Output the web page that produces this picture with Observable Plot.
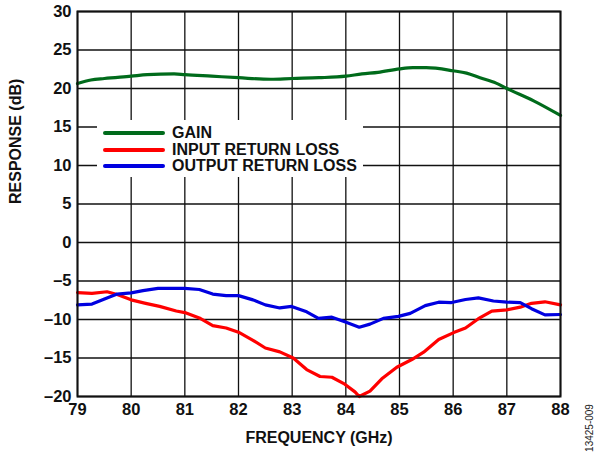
<!DOCTYPE html>
<html><head><meta charset="utf-8">
<script src="https://cdn.jsdelivr.net/npm/d3@7"></script>
<script src="https://cdn.jsdelivr.net/npm/@observablehq/plot@0.6"></script>
<style>
body{margin:0;background:#fff;}
#wrap{position:relative;width:598px;height:452px;font-family:"Liberation Sans",Arial,sans-serif;font-weight:bold;}
#legend{position:absolute;left:97px;top:120px;width:266px;height:57px;background:#fff;}
.row{position:absolute;left:6px;height:16px;display:flex;align-items:center;font-size:16px;color:#111;white-space:nowrap;}
.sw{width:62px;height:4px;border-radius:2px;margin-right:7px;}
#code{position:absolute;left:589px;top:428px;transform:translate(-50%,-50%) rotate(-90deg);font-family:"Liberation Sans Narrow","Liberation Sans",Arial,sans-serif;font-size:10px;font-weight:normal;color:#222;white-space:nowrap;}
</style></head><body><div id="wrap"></div>
<script>
const xTicks = [79,80,81,82,83,84,85,86,87,88];
const yTicks = [-20,-15,-10,-5,0,5,10,15,20,25,30];
const xLabel = "FREQUENCY (GHz)";
const yLabel = "RESPONSE (dB)";
const seriesNames = ["GAIN","INPUT RETURN LOSS","OUTPUT RETURN LOSS"];
const seriesColors = ["#006b1b","#ff0000","#0000e0"];

const gainFreq = [79,79.25,79.5,80,80.3,80.8,81,81.5,82,82.6,83,83.5,84,84.3,84.6,85,85.25,85.5,86,86.25,86.5,86.8,87,87.5,88];
const gainDb   = [20.65,21.1,21.3,21.6,21.8,21.9,21.8,21.6,21.4,21.2,21.3,21.4,21.6,21.9,22.1,22.55,22.7,22.7,22.3,22.0,21.4,20.7,20.0,18.4,16.5];

const inFreq = [79,79.27,79.55,79.74,80,80.27,80.53,80.84,81,81.27,81.52,81.77,82,82.27,82.5,82.77,83.02,83.27,83.52,83.74,83.98,84.17,84.25,84.45,84.67,84.95,85.23,85.45,85.73,86.01,86.23,86.47,86.72,87,87.25,87.46,87.71,88];
const inDb   = [-6.5,-6.6,-6.4,-6.75,-7.45,-7.9,-8.3,-8.9,-9.1,-9.8,-10.8,-11.1,-11.65,-12.7,-13.7,-14.2,-15.0,-16.5,-17.4,-17.5,-18.4,-19.4,-20,-19.3,-17.7,-16.2,-15.2,-14.25,-12.6,-11.7,-11.1,-9.9,-8.9,-8.75,-8.4,-7.9,-7.7,-8.1];

const outFreq = [79,79.27,79.55,79.74,80,80.22,80.5,81,81.27,81.52,81.77,82,82.27,82.5,82.77,82.99,83.27,83.49,83.74,83.98,84.25,84.45,84.7,84.98,85.2,85.48,85.73,85.97,86.23,86.47,86.75,87,87.25,87.46,87.71,88];
const outDb   = [-8.1,-8.0,-7.2,-6.7,-6.55,-6.25,-5.95,-5.95,-6.1,-6.7,-6.9,-6.9,-7.45,-8.1,-8.5,-8.3,-9.0,-9.85,-9.7,-10.3,-11.0,-10.6,-9.85,-9.6,-9.2,-8.2,-7.75,-7.8,-7.4,-7.2,-7.6,-7.75,-7.8,-8.6,-9.4,-9.35];

const toRows = (f, v, s) => f.map((x, i) => ({f: x, v: v[i], s}));
const gain = toRows(gainFreq, gainDb, seriesNames[0]);
const inRL = toRows(inFreq, inDb, seriesNames[1]);
const outRL = toRows(outFreq, outDb, seriesNames[2]);

const fmt = d => d < 0 ? "\u2013" + Math.abs(d) : String(d);

const chart = Plot.plot({
  width: 598, height: 452,
  marginLeft: 77, marginRight: 38, marginTop: 11, marginBottom: 56,
  style: {fontFamily: "Liberation Sans, Arial, sans-serif", fontSize: "16px", fontWeight: "bold", color: "#111", background: "#fff"},
  x: {domain: [79, 88]},
  y: {domain: [-20, 30]},
  color: {domain: seriesNames, range: seriesColors},
  marks: [
    Plot.gridX(xTicks, {stroke: "#111", strokeOpacity: 1, strokeWidth: 1.3}),
    Plot.gridY(yTicks, {stroke: "#111", strokeOpacity: 1, strokeWidth: 1.3}),
    Plot.axisX(xTicks, {tickSize: 0, tickPadding: 7, tickFormat: fmt, label: null, fontSize: 16.5, fontWeight: "bold"}),
    Plot.axisY(yTicks, {tickSize: 0, tickPadding: 6, tickFormat: fmt, label: null, fontSize: 16.5, fontWeight: "bold"}),
    Plot.text([xLabel], {frameAnchor: "bottom", dy: 46, fontSize: 16, fontWeight: "bold", fill: "#111"}),
    Plot.text([yLabel], {frameAnchor: "left", dx: -62, rotate: -90, fontSize: 16, fontWeight: "bold", fill: "#111"}),
    Plot.line(gain, {x: "f", y: "v", stroke: "s", strokeWidth: 3.2, curve: "monotone-x"}),
    Plot.line(inRL, {x: "f", y: "v", stroke: "s", strokeWidth: 3.2}),
    Plot.line(outRL, {x: "f", y: "v", stroke: "s", strokeWidth: 3.2}),
    Plot.frame({stroke: "#111", strokeWidth: 2})
  ]
});
const wrap = document.getElementById("wrap");
wrap.appendChild(chart);

const legend = document.createElement("div");
legend.id = "legend";
seriesNames.forEach((n, i) => {
  const r = document.createElement("div");
  r.className = "row";
  r.style.top = (5 + i * 16.5) + "px";
  r.innerHTML = `<div class="sw" style="background:${seriesColors[i]}"></div><span>${n}</span>`;
  legend.appendChild(r);
});
wrap.appendChild(legend);

const code = document.createElement("div");
code.id = "code";
code.textContent = "13425-009";
wrap.appendChild(code);
</script>
</body></html>
